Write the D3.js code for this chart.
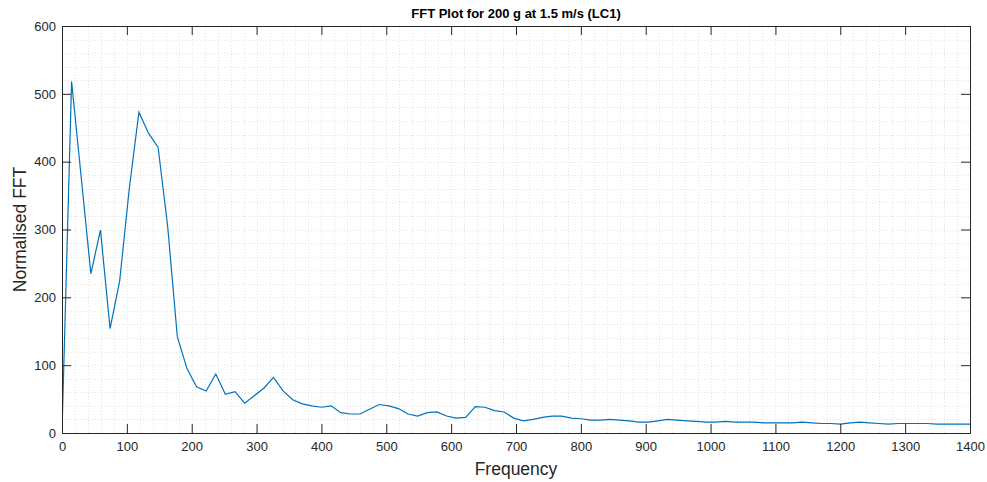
<!DOCTYPE html>
<html lang="en">
<head>
	<meta charset="utf-8">
	<title>FFT Plot</title>
	<style>
		body { margin: 0; background: #fff; }
		svg { display: block; font-family: Arial, "Liberation Sans", Helvetica, sans-serif; }
		.grid line { stroke: #e2e2e2; stroke-width: 1px; stroke-dasharray: 1, 2; }
		.axis path, .axis line { stroke: #262626; }
		.axis text { fill: #262626; font-size: 13px; }
		.fft { fill: none; stroke: #0072BD; stroke-width: 1.2px; }
	</style>
</head>
<body>
	<div id="chart"></div>

	<script src="https://cdn.jsdelivr.net/npm/d3@7"></script>
	<script>
		var
			width = 987,
			height = 482,
			margin = { top: 26, right: 17, bottom: 49, left: 62 };

		// frequency bins (Hz)
		var freq = [
			0, 14.8, 29.6, 44.5, 59.3, 74.1, 88.9, 103.7, 118.6, 133.4,
			148.2, 163.0, 177.8, 192.7, 207.5, 222.3, 237.1, 251.9, 266.8, 281.6,
			296.4, 311.2, 326.0, 340.9, 355.7, 370.5, 385.3, 400.1, 415.0, 429.8,
			444.6, 459.4, 474.2, 489.1, 503.9, 518.7, 533.5, 548.3, 563.2, 578.0,
			592.8, 607.6, 622.4, 637.3, 652.1, 666.9, 681.7, 696.5, 711.4, 726.2,
			741.0, 755.8, 770.6, 785.5, 800.3, 815.1, 829.9, 844.7, 859.6, 874.4,
			889.2, 904.0, 918.8, 933.7, 948.5, 963.3, 978.1, 992.9, 1007.8, 1022.6,
			1037.4, 1052.2, 1067.0, 1081.9, 1096.7, 1111.5, 1126.3, 1141.1, 1156.0, 1170.8,
			1185.6, 1200.4, 1215.2, 1230.1, 1244.9, 1259.7, 1274.5, 1289.3, 1304.2, 1319.0,
			1333.8, 1348.6, 1363.4, 1378.3, 1393.1, 1407.9
		];

		// normalised FFT magnitude
		var fftValues = [
			2, 518, 377, 235, 299, 154, 224, 360, 473, 442,
			421, 304, 142, 95, 68, 62, 87, 57, 61, 44,
			55, 66, 82, 62, 49, 43, 40, 38, 40, 30,
			28, 28, 35, 42, 40, 36, 28, 25, 30, 31,
			25, 22, 23, 39, 38, 33, 31, 22, 18, 20,
			23, 25, 25, 22, 21, 19, 19, 20, 19, 18,
			16, 16, 18, 20, 19, 18, 17, 16, 16, 17,
			16, 16, 16, 15, 15, 15, 15, 16, 15, 14,
			14, 13, 15, 16, 15, 14, 13, 14, 14, 14,
			14, 13, 13, 13, 13, 13
		];

		var xTicks = [0, 100, 200, 300, 400, 500, 600, 700, 800, 900, 1000, 1100, 1200, 1300, 1400];
		var yTicks = [0, 100, 200, 300, 400, 500, 600];

		var svg = d3.select("#chart")
			.append("svg")
			.attr("width", width)
			.attr("height", height);

		var x = d3.scaleLinear()
			.domain([0, 1400])
			.range([margin.left, width - margin.right]);

		var y = d3.scaleLinear()
			.domain([0, 600])
			.range([height - margin.bottom, margin.top]);

		// dotted grid every 20 units
		var grid = svg.append("g").attr("class", "grid");

		grid.selectAll(".gx")
			.data(d3.range(20, 1400, 20))
			.enter().append("line")
			.attr("x1", function (d) { return Math.round(x(d)) + 0.5; })
			.attr("x2", function (d) { return Math.round(x(d)) + 0.5; })
			.attr("y1", y(0))
			.attr("y2", y(600));

		grid.selectAll(".gy")
			.data(d3.range(20, 600, 20))
			.enter().append("line")
			.attr("y1", function (d) { return Math.round(y(d)) + 0.5; })
			.attr("y2", function (d) { return Math.round(y(d)) + 0.5; })
			.attr("x1", x(0))
			.attr("x2", x(1400));

		// data line, clipped to the axes box
		svg.append("clipPath")
			.attr("id", "clip")
			.append("rect")
			.attr("x", x(0))
			.attr("y", y(600))
			.attr("width", x(1400) - x(0))
			.attr("height", y(0) - y(600));

		var line = d3.line()
			.x(function (d, i) { return x(freq[i]); })
			.y(function (d) { return y(d); });

		svg.append("path")
			.datum(fftValues)
			.attr("class", "fft")
			.attr("clip-path", "url(#clip)")
			.attr("d", line);

		// axes (ticks point inward, box all round)
		var tick = 9;
		var fmt = d3.format("d");

		svg.append("g")
			.attr("class", "axis")
			.attr("transform", "translate(0," + y(0) + ")")
			.call(d3.axisBottom(x).tickValues(xTicks).tickSizeInner(-tick).tickSizeOuter(0).tickPadding(9).tickFormat(fmt));

		svg.append("g")
			.attr("class", "axis")
			.attr("transform", "translate(0," + y(600) + ")")
			.call(d3.axisTop(x).tickValues(xTicks).tickSizeInner(-tick).tickSizeOuter(0).tickFormat(""));

		svg.append("g")
			.attr("class", "axis")
			.attr("transform", "translate(" + x(0) + ",0)")
			.call(d3.axisLeft(y).tickValues(yTicks).tickSizeInner(-tick).tickSizeOuter(0).tickPadding(6).tickFormat(fmt));

		svg.append("g")
			.attr("class", "axis")
			.attr("transform", "translate(" + x(1400) + ",0)")
			.call(d3.axisRight(y).tickValues(yTicks).tickSizeInner(-tick).tickSizeOuter(0).tickFormat(""));

		// labels
		svg.append("text")
			.attr("x", (x(0) + x(1400)) / 2)
			.attr("y", 18)
			.attr("text-anchor", "middle")
			.style("font-size", "13px")
			.style("font-weight", "bold")
			.style("fill", "#000")
			.text("FFT Plot for 200 g at 1.5 m/s (LC1)");

		svg.append("text")
			.attr("x", (x(0) + x(1400)) / 2)
			.attr("y", 475)
			.attr("text-anchor", "middle")
			.style("font-size", "17.5px")
			.style("fill", "#262626")
			.text("Frequency");

		svg.append("text")
			.attr("transform", "translate(26," + (y(0) + y(600)) / 2 + ") rotate(-90)")
			.attr("text-anchor", "middle")
			.style("font-size", "17.5px")
			.style("fill", "#262626")
			.text("Normalised FFT");
	</script>
</body>
</html>
